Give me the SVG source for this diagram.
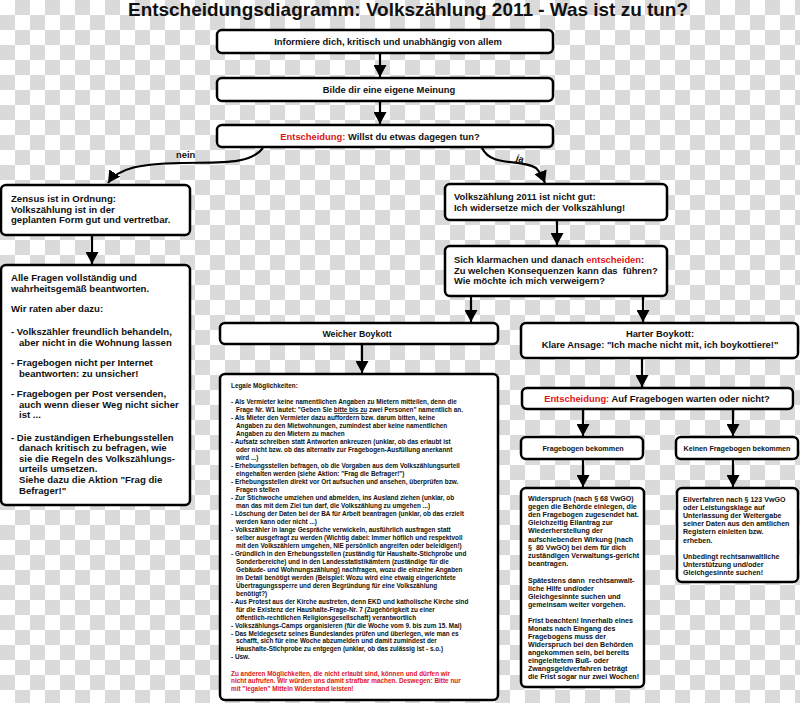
<svg xmlns="http://www.w3.org/2000/svg" width="800" height="703" viewBox="0 0 800 703">
<defs>
<pattern id="checker" width="30" height="30" patternUnits="userSpaceOnUse">
<rect x="0" y="0" width="30" height="30" fill="#ffffff"/>
<rect x="15" y="0" width="15" height="15" fill="#dadada"/>
<rect x="0" y="15" width="15" height="15" fill="#dadada"/>
</pattern>
<marker id="ah" markerUnits="userSpaceOnUse" markerWidth="13" markerHeight="13" refX="12" refY="6.5" orient="auto">
<path d="M0,0 L12,6.5 L0,13 z" fill="#000"/>
</marker>
<style>
.box{fill:#fff;stroke:#000;stroke-width:2.5}
.t{font-family:"Liberation Sans",Arial,sans-serif;font-weight:bold;fill:#111}
.c{text-anchor:middle}
.r{fill:#e01515}
.m{font-size:9.4px}
.l{font-size:9.6px}
.s{font-size:6.4px}
.w{font-size:7.1px}
.con{fill:none;stroke:#000;stroke-width:2.2;marker-end:url(#ah)}
</style>
</defs>
<rect width="800" height="703" fill="url(#checker)"/>
<text class="t c" x="408" y="16" font-size="18.5" textLength="560" lengthAdjust="spacingAndGlyphs">Entscheidungsdiagramm: Volkszählung 2011 - Was ist zu tun?</text>

<g id="connectors">
<path class="con" d="M380,53 L380,77"/>
<path class="con" d="M380,101 L380,124"/>
<path class="con" d="M263,148 C250,165 220,162 180,163 C140,164 118,168 108,183"/>
<path class="con" d="M482,148 C492,168 520,158 536,168 C540,172 543,178 545,183"/>
<path class="con" d="M92,235 L92,264"/>
<path class="con" d="M557,220 L557,245"/>
<path class="con" d="M471,296 L471,322"/>
<path class="con" d="M643,296 L643,322"/>
<path class="con" d="M362,344 L362,373"/>
<path class="con" d="M642,358 L642,387"/>
<path class="con" d="M583,409 L583,436"/>
<path class="con" d="M733,409 L733,436"/>
<path class="con" d="M583,459 L583,487"/>
<path class="con" d="M733,459 L733,487"/>
<text class="t m" x="176" y="158">nein</text>
<text class="t m" x="516" y="162" transform="rotate(20 520 159)">ja</text>
</g>

<g id="n1">
<rect class="box" x="217" y="30" width="336" height="23" rx="5"/>
<text class="t m c" x="388" y="45">Informiere dich, kritisch und unabhängig von allem</text>
</g>
<g id="n2">
<rect class="box" x="217" y="78" width="336" height="23" rx="5"/>
<text class="t m c" x="389" y="93">Bilde dir eine eigene Meinung</text>
</g>
<g id="n3">
<rect class="box" x="217" y="125" width="336" height="22" rx="5"/>
<text class="t m c" x="380" y="139.5"><tspan class="r">Entscheidung:</tspan> Willst du etwas dagegen tun?</text>
</g>

<g id="n4">
<rect class="box" x="1" y="185" width="189" height="50" rx="5"/>
<text class="t l"><tspan x="11" y="202">Zensus ist in Ordnung:</tspan><tspan x="11" y="212.5">Volkszählung ist in der</tspan><tspan x="11" y="223">geplanten Form gut und vertretbar.</tspan></text>
</g>
<g id="n5">
<rect class="box" x="1" y="265" width="189" height="240" rx="5"/>
<text class="t l">
<tspan x="11" y="281">Alle Fragen vollständig und</tspan>
<tspan x="11" y="291.5">wahrheitsgemäß beantworten.</tspan>
<tspan x="11" y="312">Wir raten aber dazu:</tspan>
<tspan x="11" y="335">- Volkszähler freundlich behandeln,</tspan>
<tspan x="19" y="345.5">aber nicht in die Wohnung lassen</tspan>
<tspan x="11" y="366">- Fragebogen nicht per Internet</tspan>
<tspan x="19" y="376.5">beantworten: zu unsicher!</tspan>
<tspan x="11" y="397">- Fragebogen per Post versenden,</tspan>
<tspan x="19" y="407.5">auch wenn dieser Weg nicht sicher</tspan>
<tspan x="19" y="418">ist ...</tspan>
<tspan x="11" y="440.5">- Die zuständigen Erhebungsstellen</tspan>
<tspan x="19" y="451">danach kritisch zu befragen, wie</tspan>
<tspan x="19" y="461.5">sie die Regeln des Volkszählungs-</tspan>
<tspan x="19" y="472">urteils umsetzen.</tspan>
<tspan x="19" y="483">Siehe dazu die Aktion "Frag die</tspan>
<tspan x="19" y="494">Befrager!"</tspan>
</text>
</g>

<g id="n6">
<rect class="box" x="445" y="184" width="222" height="36" rx="5"/>
<text class="t m"><tspan x="454" y="200">Volkszählung 2011 ist nicht gut:</tspan><tspan x="454" y="210.5">Ich widersetze mich der Volkszählung!</tspan></text>
</g>
<g id="n7">
<rect class="box" x="445" y="246" width="222" height="50" rx="5"/>
<text class="t m"><tspan x="454" y="263">Sich klarmachen und danach <tspan class="r">entscheiden</tspan>:</tspan><tspan x="454" y="273.5">Zu welchen Konsequenzen kann das&#160; führen?</tspan><tspan x="454" y="284">Wie möchte ich mich verweigern?</tspan></text>
</g>

<g id="n8">
<rect class="box" x="220" y="323" width="278" height="21" rx="5"/>
<text class="t c" font-size="8.8" x="357" y="336.5">Weicher Boykott</text>
</g>
<g id="n9">
<rect class="box" x="220" y="374" width="278" height="326" rx="5"/>
<text class="t s">
<tspan x="231" y="387.5">Legale Möglichkeiten:</tspan>
<tspan x="231" y="404.3">- Als Vermieter keine namentlichen Angaben zu Mietern mitteilen, denn die</tspan>
<tspan x="236" y="412.3">Frage Nr. W1 lautet: "Geben Sie <tspan text-decoration="underline">bitte bis zu</tspan> zwei Personen" namentlich an.</tspan>
<tspan x="231" y="420.2">- Als Mieter den Vermieter dazu auffordern bzw. darum bitten, keine</tspan>
<tspan x="236" y="428.2">Angaben zu den Mietwohnungen, zumindest aber keine namentlichen</tspan>
<tspan x="236" y="436.2">Angaben zu den Mietern zu machen</tspan>
<tspan x="231" y="444.2">- Aufsatz schreiben statt Antworten ankreuzen (unklar, ob das erlaubt ist</tspan>
<tspan x="236" y="452.1">oder nicht bzw. ob das alternativ zur Fragebogen-Ausfüllung anerkannt</tspan>
<tspan x="236" y="460.1">wird ...)</tspan>
<tspan x="231" y="468.1">- Erhebungsstellen befragen, ob die Vorgaben aus dem Volkszählungsurteil</tspan>
<tspan x="236" y="476.0">eingehalten werden (siehe Aktion: "Frag die Befrager!")</tspan>
<tspan x="231" y="484.0">- Erhebungsstellen direkt vor Ort aufsuchen und ansehen, überprüfen bzw.</tspan>
<tspan x="236" y="492.0">Fragen stellen</tspan>
<tspan x="231" y="500.0">- Zur Stichwoche umziehen und abmelden, ins Ausland ziehen (unklar, ob</tspan>
<tspan x="236" y="507.9">man das mit dem Ziel tun darf, die Volkszählung zu umgehen ...)</tspan>
<tspan x="231" y="515.9">- Löschung der Daten bei der BA für Arbeit beantragen (unklar, ob das erzielt</tspan>
<tspan x="236" y="523.9">werden kann oder nicht ...)</tspan>
<tspan x="231" y="531.8">- Volkszähler in lange Gespräche verwickeln, ausführlich ausfragen statt</tspan>
<tspan x="236" y="539.8">selber ausgefragt zu werden (Wichtig dabei: Immer höflich und respektvoll</tspan>
<tspan x="236" y="547.8">mit den Volkszählern umgehen, NIE persönlich angreifen oder beleidigen!)</tspan>
<tspan x="231" y="555.8">- Gründlich in den Erhebungsstellen (zuständig für Haushalte-Stichprobe und</tspan>
<tspan x="236" y="563.7">Sonderbereiche) und in den Landesstatistikämtern (zuständige für die</tspan>
<tspan x="236" y="571.7">Gebäude- und Wohnungszählung) nachfragen, wozu die einzelne Angaben</tspan>
<tspan x="236" y="579.7">im Detail benötigt werden (Beispiel: Wozu wird eine etwaig eingerichtete</tspan>
<tspan x="236" y="587.6">Übertragungssperre und deren Begründung für eine Volkszählung</tspan>
<tspan x="236" y="595.6">benötigt?)</tspan>
<tspan x="231" y="603.6">- Aus Protest aus der Kirche austreten, denn EKD und katholische Kirche sind</tspan>
<tspan x="236" y="611.6">für die Existenz der Haushalte-Frage-Nr. 7 (Zugehörigkeit zu einer</tspan>
<tspan x="236" y="619.5">öffentlich-rechtlichen Religionsgesellschaft) verantwortlich</tspan>
<tspan x="231" y="627.5">- Volkszählungs-Camps organisieren (für die Woche vom 9. bis zum 15. Mai)</tspan>
<tspan x="231" y="635.5">- Das Meldegesetz seines Bundeslandes prüfen und überlegen, wie man es</tspan>
<tspan x="236" y="643.4">schafft, sich für eine Woche abzumelden und damit zumindest der</tspan>
<tspan x="236" y="651.4">Haushalte-Stichprobe zu entgegen (unklar, ob das zulässig ist - s.o.)</tspan>
<tspan x="231" y="659.4">- Usw.</tspan>
</text>
<text class="t s r">
<tspan x="231" y="675.5">Zu anderen Möglichkeiten, die nicht erlaubt sind, können und dürfen wir</tspan>
<tspan x="231" y="683.4">nicht aufrufen. Wir würden uns damit strafbar machen. Deswegen: Bitte nur</tspan>
<tspan x="231" y="691.4">mit "legalen" Mitteln Widerstand leisten!</tspan>
</text>
</g>

<g id="n10">
<rect class="box" x="521" y="323" width="277" height="35" rx="5"/>
<text class="t m c"><tspan x="660" y="337">Harter Boykott:</tspan><tspan x="660" y="347.5">Klare Ansage: "Ich mache nicht mit, ich boykottiere!"</tspan></text>
</g>
<g id="n11">
<rect class="box" x="522" y="388" width="271" height="21" rx="5"/>
<text class="t m c" x="657" y="401.5"><tspan class="r">Entscheidung:</tspan> Auf Fragebogen warten oder nicht?</text>
</g>
<g id="n12">
<rect class="box" x="521" y="437" width="122" height="22" rx="5"/>
<text class="t c" font-size="7.2" x="583" y="450.5">Fragebogen bekommen</text>
</g>
<g id="n13">
<rect class="box" x="676" y="437" width="122" height="22" rx="5"/>
<text class="t c" font-size="7.2" x="737" y="450.5">Keinen Fragebogen bekommen</text>
</g>
<g id="n14">
<rect class="box" x="521" y="488" width="123" height="199" rx="5"/>
<text class="t w">
<tspan x="528" y="500.5">Widerspruch (nach § 68 VwGO)</tspan>
<tspan x="528" y="508.7">gegen die Behörde einlegen, die</tspan>
<tspan x="528" y="516.9">den Fragebogen zugesendet hat.</tspan>
<tspan x="528" y="525.1">Gleichzeitig Eilantrag zur</tspan>
<tspan x="528" y="533.3">Wiederherstellung der</tspan>
<tspan x="528" y="541.5">aufschiebenden Wirkung (nach</tspan>
<tspan x="528" y="549.7">§&#160; 80 VwGO) bei dem für dich</tspan>
<tspan x="528" y="557.9">zuständigen Verwaltungs-gericht</tspan>
<tspan x="528" y="566.1">beantragen.</tspan>
<tspan x="528" y="582.5">Spätestens dann&#160; rechtsanwalt-</tspan>
<tspan x="528" y="590.7">liche Hilfe und/oder</tspan>
<tspan x="528" y="598.9">Gleichgesinnte suchen und</tspan>
<tspan x="528" y="607.1">gemeinsam weiter vorgehen.</tspan>
<tspan x="528" y="623.3">Frist beachten! Innerhalb eines</tspan>
<tspan x="528" y="631.3">Monats nach Eingang des</tspan>
<tspan x="528" y="639.3">Fragebogens muss der</tspan>
<tspan x="528" y="647.3">Widerspruch bei den Behörden</tspan>
<tspan x="528" y="655.3">angekommen sein, bei bereits</tspan>
<tspan x="528" y="663.3">eingeleitetem Buß- oder</tspan>
<tspan x="528" y="671.3">Zwangsgeldverfahren beträgt</tspan>
<tspan x="528" y="679.3">die Frist sogar nur zwei Wochen!</tspan>
</text>
</g>
<g id="n15">
<rect class="box" x="677" y="488" width="121" height="94" rx="5"/>
<text class="t w">
<tspan x="683" y="501.5">Eilverfahren nach § 123 VwGO</tspan>
<tspan x="683" y="509.7">oder Leistungsklage auf</tspan>
<tspan x="683" y="517.9">Unterlassung der Weitergabe</tspan>
<tspan x="683" y="526.1">seiner Daten aus den amtlichen</tspan>
<tspan x="683" y="534.3">Registern einleiten bzw.</tspan>
<tspan x="683" y="542.5">erheben.</tspan>
<tspan x="683" y="558.9">Unbedingt rechtsanwaltliche</tspan>
<tspan x="683" y="567.1">Unterstützung und/oder</tspan>
<tspan x="683" y="575.3">Gleichgesinnte suchen!</tspan>
</text>
</g>
</svg>
